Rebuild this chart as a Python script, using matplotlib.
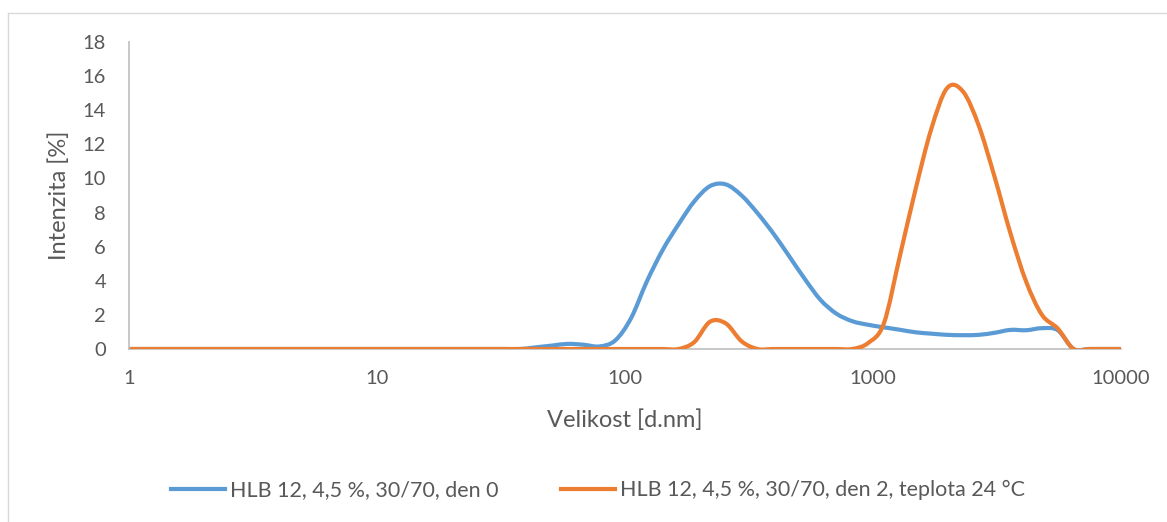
import numpy as np
import matplotlib
matplotlib.use("Agg")
import matplotlib.pyplot as plt
from matplotlib.path import Path
from matplotlib.patches import PathPatch
from matplotlib.lines import Line2D

# size classes [d.nm] of the DLS report
velikost = [0.4, 0.4632, 0.5365, 0.6213, 0.7195, 0.8332, 0.9649, 1.117, 1.294, 1.499,
            1.736, 2.01, 2.328, 2.696, 3.122, 3.615, 4.187, 4.849, 5.615, 6.503,
            7.531, 8.721, 10.1, 11.7, 13.54, 15.69, 18.17, 21.04, 24.36, 28.21,
            32.67, 37.84, 43.82, 50.75, 58.77, 68.06, 78.82, 91.28, 105.7, 122.4,
            141.8, 164.2, 190.1, 220.2, 255.0, 295.3, 342.0, 396.1, 458.7, 531.2,
            615.1, 712.4, 825.0, 955.4, 1106, 1281, 1484, 1718, 1990, 2305,
            2669, 3091, 3580, 4145, 4801, 5560, 6439, 7456, 8635, 10000]

# intensity [%] - den 0
den0 = [0] * 31 + [0.0, 0.1, 0.2, 0.3, 0.25, 0.15, 0.5, 1.8, 3.95,
                   5.8, 7.3, 8.65, 9.55, 9.65, 9.0, 7.97, 6.78, 5.45, 4.1,
                   2.87, 2.07, 1.63, 1.42, 1.27, 1.13, 0.98, 0.9, 0.83, 0.81,
                   0.83, 0.95, 1.12, 1.1, 1.22, 1.1, 0.0, 0.0, 0.0, 0.0]

# intensity [%] - den 2, 24 °C
den2 = [0] * 31 + [0.0, 0.0, 0.0, 0.0, 0.0, 0.0, 0.0, 0.0, 0.0,
                   0.0, 0.0, 0.4, 1.6, 1.5, 0.45, 0.0, 0.0, 0.0, 0.0,
                   0.0, 0.0, 0.0, 0.35, 1.5, 5.4, 9.35, 12.9, 15.3, 15.1,
                   13.1, 10.1, 6.8, 3.95, 2.0, 1.2, 0.0, 0.0, 0.0, 0.0]

labels = ["HLB 12, 4,5 %, 30/70, den 0",
          "HLB 12, 4,5 %, 30/70, den 2, teplota 24 °C"]
colors = ["#5B9BD5", "#ED7D31"]
text_col = "#595959"
axis_col = "#BFBFBF"

plt.rcParams['font.family'] = ['Lato', 'DejaVu Sans']


def smooth_path(xs, ys):
    """Excel-like smoothed line as cubic Bezier path (computed in log-x space)"""
    lx = np.log10(np.asarray(xs, float))
    y = np.asarray(ys, float)
    pts = np.column_stack([lx, y])
    n = len(pts)
    verts = [pts[0]]
    codes = [Path.MOVETO]
    for i in range(n - 1):
        p0 = pts[max(i - 1, 0)]
        p1 = pts[i]
        p2 = pts[i + 1]
        p3 = pts[min(i + 2, n - 1)]
        c1 = p1 + (p2 - p0) / 6.0
        c2 = p2 - (p3 - p1) / 6.0
        verts += [c1, c2, p2]
        codes += [Path.CURVE4] * 3
    verts = np.array(verts)
    verts[:, 0] = 10 ** verts[:, 0]
    return Path(verts, codes)


fig = plt.figure(figsize=(11.67, 5.22), dpi=100)
ax = fig.add_axes([129 / 1167, 1 - 349 / 522, 992 / 1167, 307 / 522])

for ys, c in zip([den0, den2], colors):
    patch = PathPatch(smooth_path(velikost, ys), fill=False, edgecolor=c,
                      linewidth=3, capstyle='round', joinstyle='round')
    ax.add_patch(patch)

ax.set_xscale('log')
ax.set_xlim(1, 10000)
ax.set_ylim(0, 18)
ax.set_xticks([1, 10, 100, 1000, 10000])
ax.set_xticklabels(["1", "10", "100", "1000", "10000"])
ax.minorticks_off()
ax.set_yticks(range(0, 19, 2))
ax.tick_params(axis='both', length=0, labelsize=14.5, colors=text_col)
ax.tick_params(axis='y', pad=16.5)
ax.tick_params(axis='x', pad=15)

for s in ['top', 'right']:
    ax.spines[s].set_visible(False)
for s in ['left', 'bottom']:
    ax.spines[s].set_color(axis_col)
    ax.spines[s].set_linewidth(1.2)
ax.spines['bottom'].set_zorder(0)

ax.set_ylabel("Intenzita [%]", fontsize=17, color=text_col)
ax.yaxis.set_label_coords(-0.0706, 0.5)
ax.yaxis.label.set_va('center')
ax.set_xlabel("Velikost [d.nm]", fontsize=17, color=text_col)
ax.xaxis.set_label_coords(0.5, -0.231)
ax.xaxis.label.set_va('center')

handles = [Line2D([], [], color=c, linewidth=3) for c in colors]
fig.legend(handles, labels, loc='center', bbox_to_anchor=(598 / 1167, 1 - 490 / 522),
           ncol=2, frameon=False, fontsize=15.5, labelcolor=text_col,
           handlelength=2.5, handletextpad=0.24, columnspacing=2.9)

# outer chart border
fig.add_artist(Line2D([8 / 1167, 8 / 1167], [0, 1 - 13 / 522], transform=fig.transFigure,
                      color='#D9D9D9', linewidth=1))
fig.add_artist(Line2D([8 / 1167, 1], [1 - 13 / 522, 1 - 13 / 522], transform=fig.transFigure,
                      color='#D9D9D9', linewidth=1))

fig.savefig("out.png", dpi=100)
